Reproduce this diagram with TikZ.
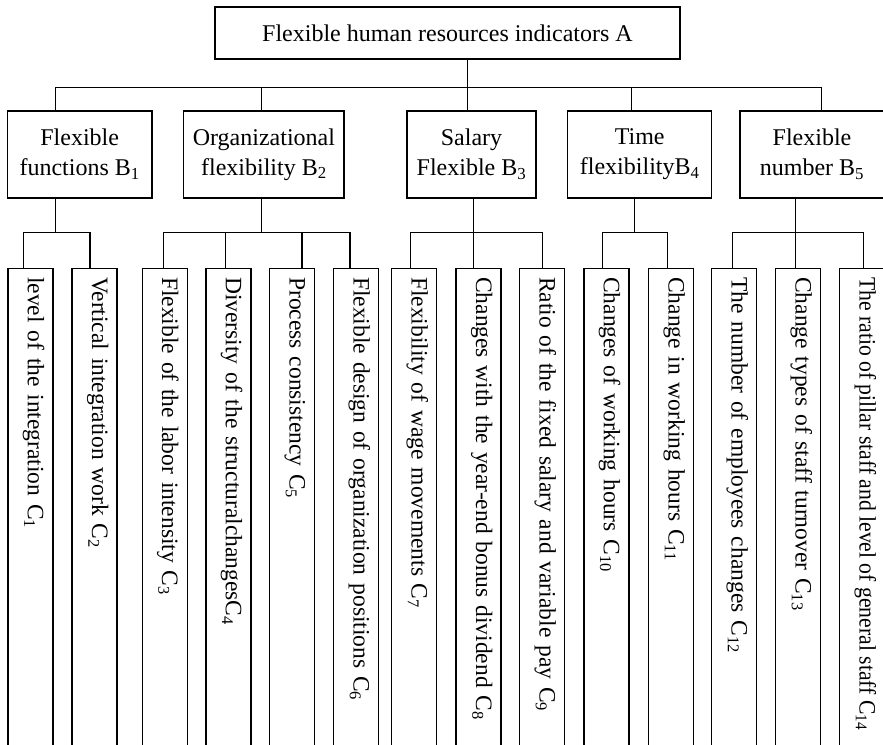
\documentclass[tikz,border=0pt]{standalone}
\usepackage{graphicx}
\usepackage{fontspec}
\setmainfont{Liberation Serif}
% vertical label: fixed-width line with wide word spaces, smashed so the
% baseline sits just off the box axis
\newcommand{\vlabel}[1]{\raisebox{-2.5pt}[0pt][0pt]{\makebox[482pt][l]{\spaceskip=.3333em\relax #1}}}
% the same, squeezed lengthwise to a given length
\newcommand{\vlabelfit}[2]{\raisebox{-2.5pt}[0pt][0pt]{\makebox[482pt][l]{\resizebox{#1}{\height}{#2}}}}
\begin{document}
\begin{tikzpicture}[x=1pt,y=-1pt,
  line width=1.4pt,
  every node/.style={font=\fontsize{24}{30}\selectfont},
  topbox/.style={draw, minimum width=465pt, minimum height=52pt, inner sep=0pt},
  bbox/.style={draw, minimum height=87pt, align=center, inner sep=2pt},
  cbox/.style={draw, rotate=-90, anchor=west, minimum width=500pt, minimum height=45pt,
    inner xsep=9pt, inner ysep=0pt, font=\fontsize{23.5}{28}\selectfont},
]
\useasboundingbox (0,0) rectangle (883,744);
\clip (0,0) rectangle (883,744);

% goal
\node[topbox] (A) at (447.5,33) {Flexible human resources indicators A};

% criteria
\node[bbox, minimum width=144.7pt] (B1) at (79.7,154.5) {Flexible\\functions B\textsubscript{1}};
\node[bbox, minimum width=160.3pt] (B2) at (263.9,154.5) {Organizational\\flexibility B\textsubscript{2}};
\node[bbox, minimum width=129pt]   (B3) at (471.5,154.5) {Salary\\Flexible B\textsubscript{3}};
\node[bbox, minimum width=144pt]   (B4) at (639.7,154.5) {Time\\flexibilityB\textsubscript{4}};
\node[bbox, minimum width=144pt]   (B5) at (812,154.5) {Flexible\\number B\textsubscript{5}};

% indicators
\node[cbox] (C1)  at (30.3,267.5)  {\vlabel{level of the integration C\textsubscript{1}}};
\node[cbox] (C2)  at (94.5,267.5)  {\vlabel{Vertical integration work C\textsubscript{2}}};
\node[cbox] (C3)  at (164.7,267.5) {\vlabel{Flexible of the labor intensity C\textsubscript{3}}};
\node[cbox] (C4)  at (228.3,267.5) {\vlabel{Diversity of the structuralchangesC\textsubscript{4}}};
\node[cbox] (C5)  at (292.2,267.5) {\vlabel{Process consistency C\textsubscript{5}}};
\node[cbox] (C6)  at (356.2,267.5) {\vlabel{Flexible design of organization positions C\textsubscript{6}}};
\node[cbox] (C7)  at (414,267.5)   {\vlabel{Flexibility of wage movements C\textsubscript{7}}};
\node[cbox] (C8)  at (478.5,267.5) {\vlabel{Changes with the year-end bonus dividend C\textsubscript{8}}};
\node[cbox] (C9)  at (542.2,267.5) {\vlabel{Ratio of the fixed salary and variable pay C\textsubscript{9}}};
\node[cbox] (C10) at (606.3,267.5) {\vlabel{Changes of working hours C\textsubscript{10}}};
\node[cbox] (C11) at (671,267.5)   {\vlabel{Change in working hours C\textsubscript{11}}};
\node[cbox] (C12) at (734.2,267.5) {\vlabel{The number of employees changes C\textsubscript{12}}};
\node[cbox] (C13) at (798,267.5)   {\vlabel{Change types of staff turnover C\textsubscript{13}}};
\node[cbox] (C14) at (862,267.5)   {\vlabelfit{453pt}{The ratio of pillar staff and level of general staff C\textsubscript{14}}};

% goal -> criteria
\draw ([xshift=20.2pt]A.south) -- ([xshift=-3.8pt]B3.north);
\draw ([xshift=-24pt]B1.north) -- ++(0,-23) -| ([xshift=9.7pt]B5.north);
\draw ([xshift=-2.2pt]B2.north) -- ++(0,-23);
\draw ([xshift=-8pt]B4.north) -- ++(0,-23);

% B1 -> C1, C2
\draw ([xshift=-24pt]B1.south) -- ++(0,34.7);
\draw ([xshift=-6.6pt]C1.west) -- ++(0,-34.8) -| ([xshift=-4.5pt]C2.west);

% B2 -> C3..C6
\draw ([xshift=-2.2pt]B2.south) -- ++(0,34.7);
\draw ([xshift=-1pt]C3.west) -- ++(0,-34.8) -| ([xshift=-6.2pt]C6.west);
\draw ([xshift=-2.6pt]C4.west) -- ++(0,-34.8);
\draw ([xshift=9.8pt]C5.west) -- ++(0,-34.8);

% B3 -> C7..C9
\draw ([xshift=1.8pt]B3.south) -- ++(0,34.7);
\draw ([xshift=-3.3pt]C7.west) -- ++(0,-34.8) -| (C9.west);
\draw ([xshift=-5.2pt]C8.west) -- ++(0,-34.8);

% B4 -> C10, C11
\draw ([xshift=-5.4pt]B4.south) -- ++(0,34.7);
\draw ([xshift=-4pt]C10.west) -- ++(0,-34.8) -| ([xshift=-3.3pt]C11.west);

% B5 -> C12..C14
\draw ([xshift=-16.3pt]B5.south) -- ++(0,34.7);
\draw ([xshift=-1.5pt]C12.west) -- ++(0,-34.8) -| ([xshift=1.3pt]C14.west);
\draw ([xshift=-2.3pt]C13.west) -- ++(0,-34.8);
\end{tikzpicture}
\end{document}
